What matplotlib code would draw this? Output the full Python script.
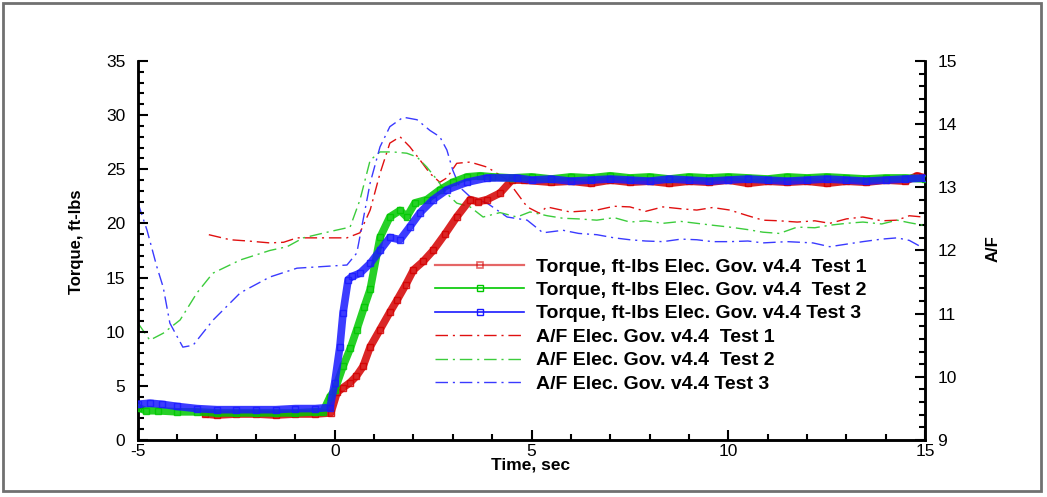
import matplotlib
matplotlib.use("Agg")
import matplotlib.pyplot as plt
from matplotlib.lines import Line2D
from matplotlib.patches import Rectangle
from matplotlib.ticker import MultipleLocator

plt.rcParams["font.family"] = ["Liberation Sans", "DejaVu Sans"]
plt.rcParams["axes.unicode_minus"] = False

# -----------------------------------------------------
# Torque, ft-lbs (left axis)
# -----------------------------------------------------
t_tq1 = [-3.3, -3.0, -2.5, -2.0, -1.5, -1.0, -0.5, -0.1, 0.06, 0.2, 0.39,
         0.55, 0.72, 0.9, 1.15, 1.4, 1.58, 1.8, 2.0, 2.25, 2.5, 2.8, 3.1,
         3.44, 3.65, 3.87, 4.2, 4.5, 4.8, 5.5, 6.0, 6.5, 7.0, 7.5, 8.0,
         8.5, 9.0, 9.5, 10.0, 10.5, 11.0, 11.5, 12.0, 12.5, 13.0, 13.5,
         14.0, 14.5, 14.8, 15.0]
tq1 = [2.4, 2.3, 2.4, 2.4, 2.3, 2.4, 2.4, 2.5, 4.4, 4.8, 5.3,
       5.9, 6.8, 8.6, 10.2, 11.8, 12.9, 14.3, 15.7, 16.5, 17.5, 19.0, 20.6,
       22.2, 22.0, 22.2, 22.8, 24.0, 24.0, 23.8, 23.9, 23.7, 24.0, 23.8, 23.9,
       23.7, 23.9, 23.8, 24.0, 23.7, 23.9, 23.8, 23.9, 23.7, 23.9, 23.8,
       24.0, 23.9, 24.4, 24.2]

t_tq2 = [-5.0, -4.8, -4.5, -4.0, -3.5, -3.0, -2.5, -2.0, -1.5, -1.0, -0.5,
         -0.3, -0.12, 0.0, 0.21, 0.4, 0.56, 0.75, 0.9, 1.15, 1.4, 1.66,
         1.83, 2.04, 2.34, 2.67, 3.0, 3.36, 3.7, 4.0, 4.5, 5.0, 5.5, 6.0,
         6.5, 7.0, 7.5, 8.0, 8.5, 9.0, 9.5, 10.0, 10.5, 11.0, 11.5, 12.0,
         12.5, 13.0, 13.5, 14.0, 14.5, 15.0]
tq2 = [3.0, 2.7, 2.7, 2.6, 2.6, 2.5, 2.5, 2.5, 2.5, 2.5, 2.6,
       2.6, 4.0, 4.6, 6.8, 8.5, 10.2, 12.3, 13.9, 18.7, 20.6, 21.2,
       20.6, 21.9, 22.2, 23.1, 23.8, 24.3, 24.4, 24.3, 24.2, 24.3, 24.1, 24.3,
       24.2, 24.4, 24.2, 24.3, 24.1, 24.3, 24.2, 24.3, 24.2, 24.1, 24.3, 24.2,
       24.3, 24.2, 24.1, 24.2, 24.2, 24.1]

t_tq3 = [-5.0, -4.7, -4.4, -4.0, -3.5, -3.0, -2.5, -2.0, -1.5, -1.0, -0.5,
         -0.12, 0.0, 0.13, 0.21, 0.34, 0.44, 0.64, 0.9, 1.15, 1.4, 1.66,
         1.91, 2.17, 2.5, 2.85, 3.36, 3.87, 4.63, 5.0, 5.5, 6.0, 6.5, 7.0,
         7.5, 8.0, 8.5, 9.0, 9.5, 10.0, 10.5, 11.0, 11.5, 12.0, 12.5, 13.0,
         13.5, 14.0, 14.5, 15.0]
tq3 = [3.3, 3.4, 3.3, 3.1, 2.9, 2.8, 2.8, 2.8, 2.8, 2.9, 2.9,
       3.0, 5.3, 8.6, 11.7, 14.8, 15.1, 15.4, 16.3, 17.5, 18.7, 18.5,
       19.7, 21.0, 22.2, 23.1, 23.8, 24.2, 24.2, 24.0, 24.1, 23.9, 24.0, 24.1,
       24.0, 23.9, 24.1, 24.0, 23.9, 24.0, 24.1, 24.0, 23.9, 24.0, 24.1, 24.0,
       23.9, 24.0, 24.1, 24.2]

# -----------------------------------------------------
# A/F ratio (right axis)
# -----------------------------------------------------
t_af1 = [-3.2, -2.66, -2.2, -1.65, -1.3, -0.96, -0.45, 0.31, 0.64, 0.9,
         1.15, 1.4, 1.66, 1.91, 2.17, 2.42, 2.67, 2.85, 3.1, 3.44, 3.87,
         4.38, 4.89, 5.2, 5.39, 5.98, 6.66, 7.1, 7.5, 7.9, 8.34, 8.8, 9.2,
         9.6, 10.04, 10.5, 10.88, 11.3, 11.75, 12.2, 12.58, 13.0, 13.42,
         13.9, 14.29, 14.6, 14.95]
af1 = [12.25, 12.17, 12.15, 12.12, 12.13, 12.2, 12.2, 12.2, 12.28, 12.64,
       13.22, 13.7, 13.8, 13.64, 13.43, 13.22, 13.08, 13.15, 13.38, 13.4, 13.32,
       13.12, 12.69, 12.59, 12.69, 12.61, 12.64, 12.7, 12.69, 12.62, 12.69, 12.66, 12.64,
       12.68, 12.64, 12.55, 12.48, 12.47, 12.45, 12.47, 12.43, 12.5, 12.53,
       12.47, 12.48, 12.55, 12.53]

t_af2 = [-5.0, -4.7, -4.36, -3.93, -3.5, -3.1, -2.4, -1.65, -1.21, -0.8,
         -0.12, 0.39, 0.64, 0.9, 1.15, 1.48, 1.83, 2.09, 2.34, 2.6, 2.85,
         3.1, 3.44, 3.77, 4.2, 4.63, 4.96, 5.4, 5.8, 6.2, 6.66, 7.1, 7.5,
         7.9, 8.34, 8.8, 9.2, 9.6, 10.04, 10.5, 10.88, 11.3, 11.75, 12.2,
         12.58, 13.0, 13.42, 13.9, 14.29, 14.6, 14.95]
af2 = [10.85, 10.58, 10.69, 10.9, 11.33, 11.64, 11.85, 12.0, 12.06, 12.2,
       12.3, 12.37, 12.8, 13.43, 13.56, 13.56, 13.54, 13.48, 13.32, 13.12, 12.9,
       12.75, 12.69, 12.53, 12.6, 12.53, 12.61, 12.55, 12.51, 12.5, 12.48, 12.52, 12.45,
       12.47, 12.43, 12.46, 12.43, 12.4, 12.37, 12.33, 12.29, 12.27, 12.37, 12.36,
       12.4, 12.43, 12.45, 12.42, 12.48, 12.44, 12.4]

t_af3 = [-5.0, -4.77, -4.52, -4.36, -4.19, -3.86, -3.6, -3.09, -2.4, -1.65,
         -0.96, -0.45, 0.31, 0.56, 0.9, 1.15, 1.4, 1.74, 2.09, 2.42, 2.67,
         2.85, 3.0, 3.18, 3.44, 3.87, 4.38, 4.89, 5.29, 5.8, 6.2, 6.66, 7.1,
         7.5, 7.9, 8.34, 8.8, 9.2, 9.6, 10.04, 10.5, 10.88, 11.5, 12.15,
         12.58, 13.0, 13.42, 13.9, 14.29, 14.6, 14.95]
af3 = [12.75, 12.32, 11.74, 11.42, 10.85, 10.47, 10.5, 10.9, 11.33, 11.58,
       11.72, 11.74, 11.77, 11.96, 13.07, 13.64, 13.96, 14.11, 14.07, 13.9, 13.8,
       13.59, 13.27, 13.0, 12.85, 12.75, 12.53, 12.48, 12.28, 12.32, 12.27, 12.25, 12.2,
       12.17, 12.15, 12.14, 12.18, 12.17, 12.14, 12.14, 12.15, 12.12, 12.14, 12.12,
       12.06, 12.1, 12.14, 12.18, 12.2, 12.16, 12.04]

labels = [
    "Torque, ft-lbs Elec. Gov. v4.4  Test 1",
    "Torque, ft-lbs Elec. Gov. v4.4  Test 2",
    "Torque, ft-lbs Elec. Gov. v4.4 Test 3",
    "A/F Elec. Gov. v4.4  Test 1",
    "A/F Elec. Gov. v4.4  Test 2",
    "A/F Elec. Gov. v4.4 Test 3",
]

RED, GREEN, BLUE = "#d40000", "#00c800", "#1a1aff"
AF_RED, AF_GREEN, AF_BLUE = "#e01010", "#3ccc3c", "#3a3aff"
DASHDOT = (0, (9, 3.5, 1.5, 3.5))


def torque_line(ax, t, y, color):
    ax.plot(t, y, color=color, lw=5.5, alpha=0.85, solid_capstyle="round",
            solid_joinstyle="round", marker="s", ms=4, mfc="none", mec=color,
            mew=1.0, zorder=3)


def style_ticks(ax):
    for spine in ax.spines.values():
        spine.set_linewidth(1.8)
    ax.tick_params(which="both", direction="in", width=1.5, labelsize=12.5)
    ax.tick_params(which="major", length=7)
    ax.tick_params(which="minor", length=4)


fig = plt.figure(figsize=(10.47, 4.97), dpi=100)
ax = fig.add_axes([0.1318, 0.1147, 0.7517, 0.7626])
ax2 = ax.twinx()

# A/F curves (thin dash-dot)
ax2.plot(t_af1, af1, color=AF_RED, lw=1, ls=DASHDOT)
ax2.plot(t_af2, af2, color=AF_GREEN, lw=1, ls=DASHDOT)
ax2.plot(t_af3, af3, color=AF_BLUE, lw=1, ls=DASHDOT)

# torque curves (thick with square markers), drawn above A/F
ax.set_zorder(ax2.get_zorder() + 1)
ax.patch.set_visible(False)
torque_line(ax, t_tq1, tq1, RED)
torque_line(ax, t_tq2, tq2, GREEN)
torque_line(ax, t_tq3, tq3, BLUE)

ax.set_xlim(-5, 15)
ax.set_ylim(0, 35)
ax2.set_ylim(9, 15)

ax.xaxis.set_major_locator(MultipleLocator(5))
ax.xaxis.set_minor_locator(MultipleLocator(1))
ax.yaxis.set_major_locator(MultipleLocator(5))
ax.yaxis.set_minor_locator(MultipleLocator(1))
ax2.yaxis.set_major_locator(MultipleLocator(1))
ax2.yaxis.set_minor_locator(MultipleLocator(0.2))

style_ticks(ax)
style_ticks(ax2)
ax.tick_params(axis="y", which="both", right=False, pad=9)
ax.tick_params(axis="x", which="both", top=False, pad=3)
ax2.tick_params(axis="y", pad=9)
for a in (ax, ax2):
    a.spines["top"].set_visible(False)

# axis titles
fig.text(76 / 1047, 1 - 242 / 497, "Torque, ft-lbs", rotation=90,
         ha="center", va="center", fontsize=12, fontweight="bold")
fig.text(531 / 1047, 1 - 465 / 497, "Time, sec",
         ha="center", va="center", fontsize=12.5, fontweight="bold")
fig.text(993 / 1047, 1 - 249 / 497, "A/F", rotation=90,
         ha="center", va="center", fontsize=12, fontweight="bold")

# legend
handles = [
    Line2D([], [], color=RED, lw=1.6, alpha=0.6, marker="s", ms=4.5,
           mfc="none", mec=RED, mew=1.2),
    Line2D([], [], color=GREEN, lw=1.2, marker="s", ms=4.5,
           mfc="none", mec=GREEN, mew=1.0),
    Line2D([], [], color=BLUE, lw=1.2, marker="s", ms=4.5,
           mfc="none", mec=BLUE, mew=1.0),
    Line2D([], [], color=AF_RED, lw=1, ls=DASHDOT),
    Line2D([], [], color=AF_GREEN, lw=1, ls=DASHDOT),
    Line2D([], [], color=AF_BLUE, lw=1, ls=DASHDOT),
]
leg = fig.legend(handles, labels, loc="upper left",
                 bbox_to_anchor=(435 / 1047, 1 - 258 / 497),
                 frameon=False, borderpad=0, borderaxespad=0,
                 handlelength=4.6, handletextpad=0.6, labelspacing=0.30,
                 numpoints=1, prop={"size": 14, "weight": "bold"})

# outer frame around the whole chart
fig.patches.append(Rectangle((3 / 1047, 6 / 497), 1038 / 1047, 488 / 497,
                             transform=fig.transFigure, fill=False,
                             edgecolor="#707070", lw=2))

fig.savefig("out.png", dpi=100)
